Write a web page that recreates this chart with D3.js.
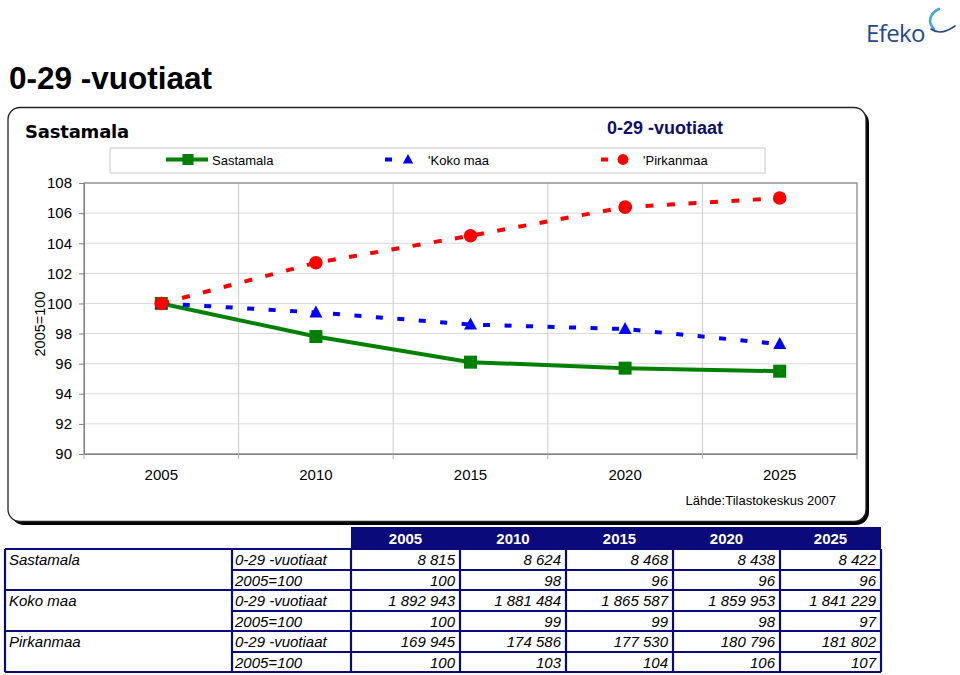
<!DOCTYPE html>
<html><head><meta charset="utf-8">
<script src="https://cdn.jsdelivr.net/npm/d3@7"></script>
<style>body{margin:0;background:#fff}svg{display:block}</style>
</head><body>
<svg id="c" width="960" height="675"></svg>
<script>
const years = ["2005","2010","2015","2020","2025"];
const yTicks = [90,92,94,96,98,100,102,104,106,108];
const sastamala = [100, 97.8, 96.1, 95.7, 95.5];
const kokoMaa = [100, 99.4, 98.6, 98.3, 97.3];
const pirkanmaa = [100, 102.7, 104.5, 106.4, 107.0];
const regions = ["Sastamala","Koko maa","Pirkanmaa"];
const legendLabels = ["Sastamala","'Koko maa","'Pirkanmaa"];
const rowLabels = ["0-29 -vuotiaat","2005=100"];
const rawSastamala = ["8 815","8 624","8 468","8 438","8 422"];
const idxSastamala = ["100","98","96","96","96"];
const rawKoko = ["1 892 943","1 881 484","1 865 587","1 859 953","1 841 229"];
const idxKoko = ["100","99","99","98","97"];
const rawPirk = ["169 945","174 586","177 530","180 796","181 802"];
const idxPirk = ["100","103","104","106","107"];

const F = "'Liberation Sans', Arial, sans-serif";
const svg = d3.select("#c");
const navy = "#0a0a7a";

// page title
svg.append("text").attr("x",9).attr("y",89).attr("font-family",F).attr("font-weight","bold")
  .attr("font-size",31.5).text("0-29 -vuotiaat");

// logo
svg.append("text").attr("x",866).attr("y",42).attr("font-family","'Open Sans', sans-serif")
  .attr("font-size",24).attr("fill","#1f4a8c").attr("letter-spacing","-0.6").text("Efeko");
svg.append("path").attr("d","M939,9 C930,13 927,22 934,29")
  .attr("fill","none").attr("stroke","#45a8dc").attr("stroke-width",2.6).attr("stroke-linecap","round");
svg.append("path").attr("d","M931,29 C939,35 948,31 955,26")
  .attr("fill","none").attr("stroke","#1f4a8c").attr("stroke-width",1.6).attr("stroke-linecap","round");

// chart box with shadow
svg.append("rect").attr("x",11).attr("y",110).attr("width",858).attr("height",415).attr("rx",13)
  .attr("fill","#000");
svg.append("rect").attr("x",8).attr("y",107.5).attr("width",858).attr("height",414).attr("rx",12)
  .attr("fill","#fff").attr("stroke","#222").attr("stroke-width",1.3);

svg.append("text").attr("x",25).attr("y",138).attr("font-family","'DejaVu Sans', sans-serif")
  .attr("font-weight","bold").attr("font-size",18).attr("letter-spacing","-0.2").text("Sastamala");
svg.append("text").attr("x",665).attr("y",134).attr("text-anchor","middle").attr("font-family",F)
  .attr("font-weight","bold").attr("font-size",18).attr("fill","#10106a").text("0-29 -vuotiaat");

// plot
const L=84,R=857,T=183,B=454;
const x = d3.scaleBand().domain(years).range([L,R]);
const y = d3.scaleLinear().domain([90,108]).range([B,T]);
const g = svg.append("g");

g.selectAll(".hg").data(yTicks).join("line").attr("x1",L).attr("x2",R)
  .attr("y1",d=>y(d)).attr("y2",d=>y(d)).attr("stroke","#d9d9d9").attr("stroke-width",1);
const bounds = years.map(d=>x(d)).concat([R]);
g.selectAll(".vg").data(bounds.slice(1,-1)).join("line").attr("x1",d=>d).attr("x2",d=>d)
  .attr("y1",T).attr("y2",B).attr("stroke","#cccccc");
g.append("rect").attr("x",L).attr("y",T).attr("width",R-L).attr("height",B-T)
  .attr("fill","none").attr("stroke","#8c8c8c").attr("stroke-width",1.3);

// y axis
const ya = d3.axisLeft(y).tickValues(yTicks).tickSize(5).tickPadding(7);
const yg = svg.append("g").attr("transform",`translate(${L},0)`).call(ya);
yg.select(".domain").attr("stroke","#808080");
yg.selectAll(".tick line").attr("stroke","#808080");
yg.selectAll("text").attr("font-family",F).attr("font-size",15).attr("fill","#000");

// x axis
const xa = d3.axisBottom(x).tickSize(0).tickPadding(15);
const xg = svg.append("g").attr("transform",`translate(0,${B})`).call(xa);
xg.select(".domain").attr("stroke","#808080");
xg.selectAll("text").attr("font-family",F).attr("font-size",15).attr("fill","#000");
svg.selectAll(".xt").data(bounds).join("line").attr("x1",d=>d).attr("x2",d=>d)
  .attr("y1",B).attr("y2",B+5).attr("stroke","#b0b0b0");

svg.append("text").attr("transform","translate(45,324) rotate(-90)").attr("text-anchor","middle")
  .attr("font-family",F).attr("font-size",14.5).text("2005=100");

svg.append("text").attr("x",836).attr("y",505).attr("text-anchor","end").attr("font-family",F)
  .attr("font-size",13).text("Lähde:Tilastokeskus 2007");

const cx = d=>x(d)+x.bandwidth()/2;
const line = d3.line().x((d,i)=>cx(years[i])).y(d=>y(d));

const series = [
  {vals:sastamala,color:"#008000",dash:null,marker:"square"},
  {vals:kokoMaa,color:"#0000ff",dash:"7,14.5",marker:"triangle"},
  {vals:pirkanmaa,color:"#ff0000",dash:"8,13.5",marker:"circle"}
];
function marker(sel,type,color){
  if(type==="square") sel.append("rect").attr("x",-6.5).attr("y",-6.5).attr("width",13).attr("height",13).attr("fill",color);
  else if(type==="triangle") sel.append("path").attr("d","M0,-7 L6.5,5 L-6.5,5 Z").attr("fill",color);
  else sel.append("circle").attr("r",6.8).attr("fill",color);
}
series.forEach(s=>{
  svg.append("path").datum(s.vals).attr("d",line).attr("fill","none").attr("stroke",s.color)
    .attr("stroke-width",4).attr("stroke-dasharray",s.dash);
});
series.forEach(s=>{
  s.vals.forEach((v,i)=>{
    const m = svg.append("g").attr("transform",`translate(${cx(years[i])},${y(v)})`);
    marker(m,s.marker,s.color);
  });
});

// legend
svg.append("rect").attr("x",110).attr("y",148).attr("width",655).attr("height",25)
  .attr("fill","#fff").attr("stroke","#d4d4d4").attr("stroke-width",1.3);
const legX = [166,385,601], legM=[188,408,623], legT=[212,428,643];
series.forEach((s,i)=>{
  svg.append("line").attr("x1",legX[i]).attr("x2",s.dash?legX[i]+7:legX[i]+42).attr("y1",159.5).attr("y2",159.5)
    .attr("stroke",s.color).attr("stroke-width",4);
  const m = svg.append("g").attr("transform",`translate(${legM[i]},159.5) scale(${i===0?0.85:0.8})`);
  marker(m,s.marker,s.color);
  svg.append("text").attr("x",legT[i]).attr("y",165).attr("font-family",F).attr("font-size",13)
    .text(legendLabels[i]);
});

// table
const colX = [5,232,351,460,566,673,780,881];
const rowY = [527,549,570,590,611,631,652,672];
const tg = svg.append("g");
tg.append("rect").attr("x",colX[2]).attr("y",rowY[0]).attr("width",colX[7]-colX[2]).attr("height",rowY[1]-rowY[0]).attr("fill",navy);
years.forEach((yr,i)=>{
  tg.append("text").attr("x",(colX[i+2]+colX[i+3])/2).attr("y",rowY[0]+17).attr("text-anchor","middle")
    .attr("font-family",F).attr("font-weight","bold").attr("font-size",15).attr("fill","#fff").text(yr);
});
const tableRows = [
  [rawSastamala, idxSastamala],[rawKoko, idxKoko],[rawPirk, idxPirk]
];
function hl(x1,x2,yy){tg.append("line").attr("x1",x1).attr("x2",x2).attr("y1",yy).attr("y2",yy).attr("stroke",navy).attr("stroke-width",2.2);}
function vl(xx,y1,y2){tg.append("line").attr("x1",xx).attr("x2",xx).attr("y1",y1).attr("y2",y2).attr("stroke",navy).attr("stroke-width",2.2);}
regions.forEach((r,ri)=>{
  const y0 = rowY[1+ri*2];
  tg.append("text").attr("x",colX[0]+4).attr("y",y0+16).attr("font-family",F).attr("font-style","italic")
    .attr("font-size",15).text(r);
  hl(colX[0],colX[7],y0);
  hl(colX[1],colX[7],rowY[2+ri*2]);
  tableRows[ri].forEach((vals,k)=>{
    const yy = rowY[1+ri*2+k];
    tg.append("text").attr("x",colX[1]+3).attr("y",yy+16).attr("font-family",F).attr("font-style","italic")
      .attr("font-size",15).text(rowLabels[k]);
    vals.forEach((v,ci)=>{
      tg.append("text").attr("x",colX[ci+3]-5).attr("y",yy+16).attr("text-anchor","end").attr("font-family",F)
        .attr("font-style","italic").attr("font-size",15).text(v);
    });
  });
});
hl(colX[0],colX[7],rowY[7]);
colX.forEach(cxv=>{ vl(cxv, rowY[1], rowY[7]); });
</script>
</body></html>
